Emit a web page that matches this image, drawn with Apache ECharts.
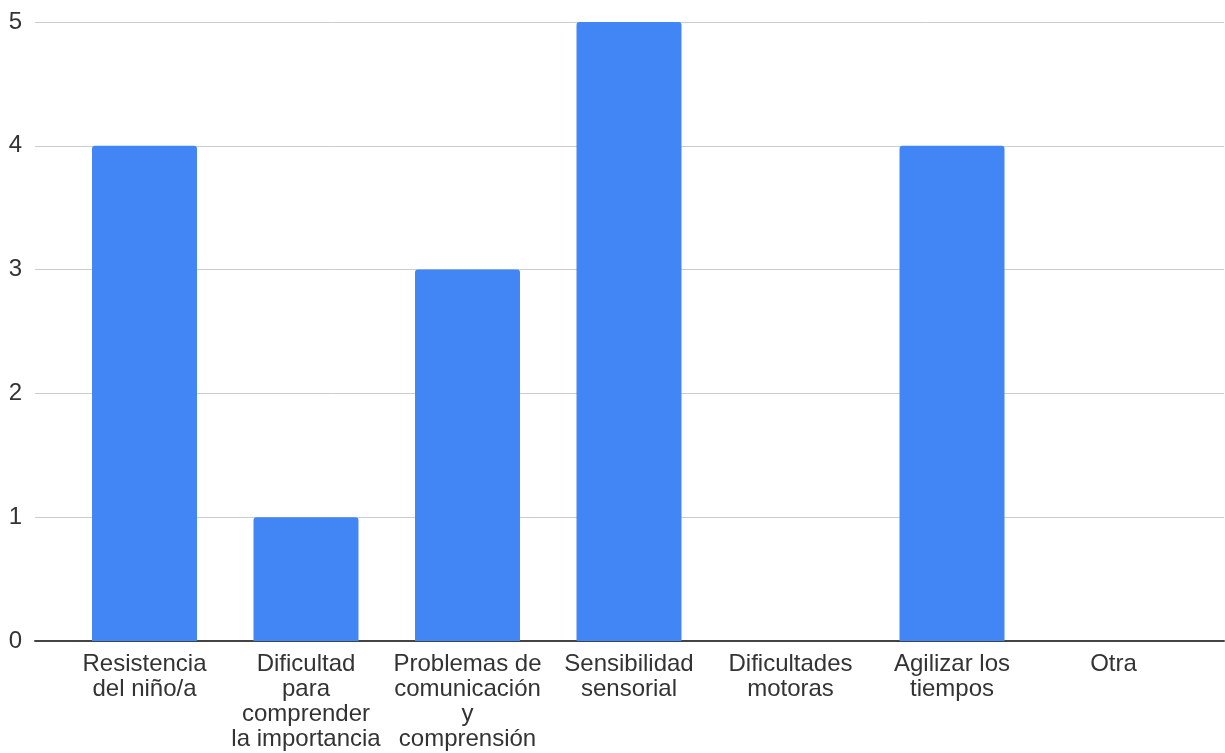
<!DOCTYPE html>
<html>
<head>
<meta charset="utf-8">
<script src="https://cdn.jsdelivr.net/npm/echarts@6/dist/echarts.min.js"></script>
<style>
html,body{margin:0;padding:0;background:#fff;}
#chart{width:1225px;height:753px;}
</style>
</head>
<body>
<div id="chart"></div>
<script>
const categories = [
  "Resistencia del niño/a",
  "Dificultad para comprender la importancia",
  "Problemas de comunicación y comprensión",
  "Sensibilidad sensorial",
  "Dificultades motoras",
  "Agilizar los tiempos",
  "Otra"
];
const values = [4, 1, 3, 5, 0, 4, 0];
const yTicks = [0, 1, 2, 3, 4, 5];

const FONT = '"Liberation Sans", Arial, sans-serif';
const LABEL_SIZE = 24;
const WRAP_WIDTH = 151;

const ctx = document.createElement('canvas').getContext('2d');
ctx.font = LABEL_SIZE + 'px ' + FONT;
function wrap(text) {
  const words = text.split(' ');
  const lines = [];
  let cur = '';
  for (const w of words) {
    const test = cur ? cur + ' ' + w : w;
    if (cur && ctx.measureText(test).width > WRAP_WIDTH) {
      lines.push(cur);
      cur = w;
    } else {
      cur = test;
    }
  }
  if (cur) lines.push(cur);
  return lines.join('\n');
}

const chart = echarts.init(document.getElementById('chart'), null, {renderer: 'canvas'});
chart.setOption({
  animation: false,
  backgroundColor: '#fff',
  grid: [
    {left: 35, right: 1, top: 22, bottom: 112, containLabel: false, outerBoundsMode: 'none'},
    {left: 63.75, right: 30.75, top: 22, bottom: 112, containLabel: false, outerBoundsMode: 'none'}
  ],
  xAxis: [
    {
      gridIndex: 0, type: 'category', data: [''],
      axisLine: {show: true, lineStyle: {color: '#444', width: 2}},
      axisTick: {show: false}, axisLabel: {show: false}, splitLine: {show: false}
    },
    {
      gridIndex: 1, type: 'category', data: categories,
      axisLine: {show: false}, axisTick: {show: false},
      axisLabel: {
        interval: 0, margin: 11, color: '#333', fontFamily: FONT, fontSize: LABEL_SIZE,
        lineHeight: 25, align: 'center', hideOverlap: false,
        formatter: wrap
      }
    }
  ],
  yAxis: [
    {
      gridIndex: 0, type: 'value', min: yTicks[0], max: yTicks[yTicks.length - 1], interval: 1,
      axisLine: {show: false}, axisTick: {show: false},
      axisLabel: {margin: 13, color: '#333', fontFamily: FONT, fontSize: 24},
      splitLine: {show: true, lineStyle: {color: '#ccc', width: 1}}
    },
    {
      gridIndex: 1, type: 'value', min: yTicks[0], max: yTicks[yTicks.length - 1], interval: 1,
      show: false, splitLine: {show: false}
    }
  ],
  series: [
    {
      type: 'bar', xAxisIndex: 1, yAxisIndex: 1, data: values,
      barCategoryGap: '35%',
      itemStyle: {color: '#4285f4', borderRadius: [3, 3, 0, 0]},
      z: 1
    }
  ]
});
</script>
</body>
</html>
